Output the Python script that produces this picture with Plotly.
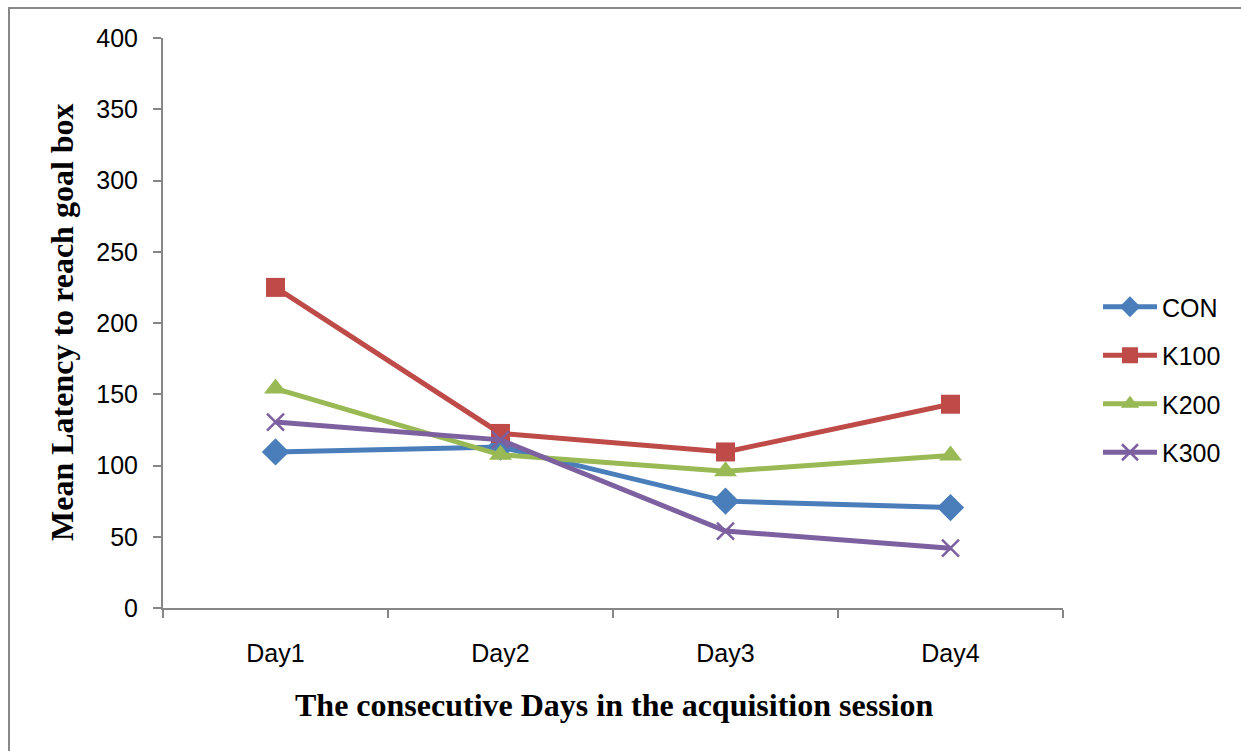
import plotly.graph_objects as go

days = ["Day1", "Day2", "Day3", "Day4"]
con = [109.5, 113, 75, 70.5]
k100 = [225, 122.5, 109.5, 143]
k200 = [154, 107.5, 96, 107]
k300 = [130.5, 118, 54, 42]
y_ticks = [0, 50, 100, 150, 200, 250, 300, 350, 400]

W, H = 1241, 751
L, R, T, B = 163, 1063, 38, 608

series = [
    ("CON", con, "#4A7EBB", dict(symbol="diamond", size=21)),
    ("K100", k100, "#BE4B48", dict(symbol="square", size=19)),
    ("K200", k200, "#98B954", dict(symbol="triangle-up", size=20)),
    ("K300", k300, "#7D60A0", dict(symbol="x-thin-open", size=17, line=dict(width=2.5, color="#7D60A0"))),
]

fig = go.Figure()
for i, (name, vals, col, mk) in enumerate(series):
    mk = dict(mk)
    mk["color"] = col
    fig.add_trace(go.Scatter(
        x=days, y=vals, name=name, mode="lines+markers",
        line=dict(color=col, width=5), marker=mk,
        legendgroup=name,
    ))

tick_font = "Liberation Sans Narrow, Arial Narrow, Liberation Sans, sans-serif"
axis_col = "#868686"
fig.update_layout(
    width=W, height=H,
    margin=dict(l=L, r=W - R, t=T, b=H - B),
    paper_bgcolor="white", plot_bgcolor="white",
    font=dict(family=tick_font, size=25, color="black"),
    xaxis=dict(
        type="category", range=[-0.5, 3.5], tickson="boundaries",
        showline=True, linecolor=axis_col, linewidth=2,
        ticks="outside", ticklen=8, tickwidth=2, tickcolor=axis_col,
        showgrid=False, zeroline=False, ticklabelstandoff=22,
        tickfont=dict(size=25),
    ),
    yaxis=dict(
        range=[0, 400], tickvals=y_ticks,
        showline=True, linecolor=axis_col, linewidth=2,
        ticks="outside", ticklen=8, tickwidth=2, tickcolor=axis_col,
        showgrid=False, zeroline=False, ticklabelstandoff=10,
        tickfont=dict(size=25),
    ),
    showlegend=True,
    legend=dict(
        x=(1098 - L) / (R - L), xanchor="left",
        y=(B - 284) / (B - T), yanchor="top",
        font=dict(size=25), tracegroupgap=13, itemwidth=54,
        bgcolor="rgba(0,0,0,0)",
    ),
    annotations=[
        dict(text="<b>The consecutive Days in the acquisition session</b>",
             xref="paper", yref="paper",
             x=(614 - L) / (R - L), y=(B - 705) / (B - T),
             xanchor="center", yanchor="middle", showarrow=False,
             font=dict(family="Liberation Serif, Times New Roman, serif", size=32, color="black")),
        dict(text="<b>Mean Latency to reach goal box</b>",
             xref="paper", yref="paper",
             x=(62 - L) / (R - L), y=(B - 322) / (B - T),
             xanchor="center", yanchor="middle", showarrow=False, textangle=-90,
             font=dict(family="Liberation Serif, Times New Roman, serif", size=32, color="black")),
    ],
    shapes=[
        dict(type="rect", xref="paper", yref="paper",
             x0=(9 - L) / (R - L), x1=(1300 - L) / (R - L),
             y0=(B - 800) / (B - T), y1=(B - 8) / (B - T),
             line=dict(color="#888888", width=2), fillcolor="rgba(0,0,0,0)", layer="below"),
    ],
)

fig.write_html("out.html")
